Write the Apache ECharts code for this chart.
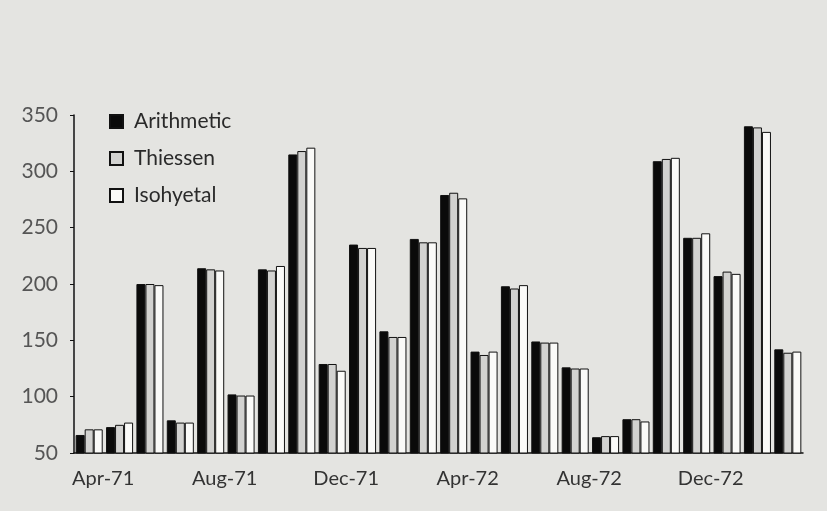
<!DOCTYPE html>
<html>
<head>
<meta charset="utf-8">
<script src="https://cdn.jsdelivr.net/npm/echarts@6/dist/echarts.min.js"></script>
<style>
  html, body { margin: 0; padding: 0; background: #e4e4e1; }
  #chart1 { width: 827px; height: 511px; }
</style>
</head>
<body>
<div id="chart1"></div>
<script>
// monthly rainfall by method, Apr-71 .. Mar-73
var months = ['Apr-71', 'May-71', 'Jun-71', 'Jul-71', 'Aug-71', 'Sep-71', 'Oct-71', 'Nov-71',
    'Dec-71', 'Jan-72', 'Feb-72', 'Mar-72', 'Apr-72', 'May-72', 'Jun-72', 'Jul-72',
    'Aug-72', 'Sep-72', 'Oct-72', 'Nov-72', 'Dec-72', 'Jan-73', 'Feb-73', 'Mar-73'];
var arithmetic = [66, 73, 200, 79, 214, 102, 213, 315, 129, 235, 158, 240,
    279, 140, 198, 149, 126, 64, 80, 309, 241, 207, 340, 142];
var thiessen = [71, 75, 200, 77, 213, 101, 212, 318, 129, 232, 153, 237,
    281, 137, 196, 148, 125, 65, 80, 311, 241, 211, 339, 139];
var isohyetal = [71, 77, 199, 77, 212, 101, 216, 321, 123, 232, 153, 237,
    276, 140, 199, 148, 125, 65, 78, 312, 245, 209, 335, 140];
var yTicks = [50, 100, 150, 200, 250, 300, 350];

var font = 'Lato, "DejaVu Sans", sans-serif';

function barSeries(name, data, fill) {
    return {
        type: 'bar',
        name: name,
        data: data,
        barGap: '0%',
        barCategoryGap: '11%',
        itemStyle: {
            color: fill,
            borderColor: '#111',
            borderWidth: 1
        }
    };
}

var chart = echarts.init(document.getElementById('chart1'));

chart.setOption({
    backgroundColor: '#e4e4e1',
    animation: false,
    legend: {
        orient: 'vertical',
        left: 104,
        top: 106,
        itemWidth: 13,
        itemHeight: 13,
        itemGap: 16,
        icon: 'rect',
        textStyle: { fontFamily: font, fontSize: 21, color: '#2a2a2a', padding: [0, 0, 0, 6] },
        data: ['Arithmetic', 'Thiessen', 'Isohyetal']
    },
    grid: {
        left: 74,
        right: 24,
        top: 115,
        bottom: 58
    },
    xAxis: {
        type: 'category',
        data: months,
        axisLine: { lineStyle: { color: '#111', width: 1.5 } },
        axisTick: {
            interval: 3,
            length: 5,
            lineStyle: { color: '#111', width: 1.5 }
        },
        axisLabel: {
            interval: 3,
            margin: 16,
            padding: [0, 0, 0, 28],
            fontFamily: font,
            fontSize: 20,
            color: '#333'
        }
    },
    yAxis: {
        type: 'value',
        min: yTicks[0],
        max: yTicks[yTicks.length - 1],
        interval: 50,
        splitLine: { show: false },
        axisLine: { show: true, lineStyle: { color: '#111', width: 1.5 } },
        axisTick: { show: true, length: 4, lineStyle: { color: '#111' } },
        axisLabel: {
            margin: 16,
            fontFamily: font,
            fontSize: 21,
            color: '#555'
        }
    },
    series: [
        barSeries('Arithmetic', arithmetic, '#0a0a0a'),
        barSeries('Thiessen', thiessen, '#d2d2d0'),
        barSeries('Isohyetal', isohyetal, '#fafaf8')
    ]
});
</script>
</body>
</html>
